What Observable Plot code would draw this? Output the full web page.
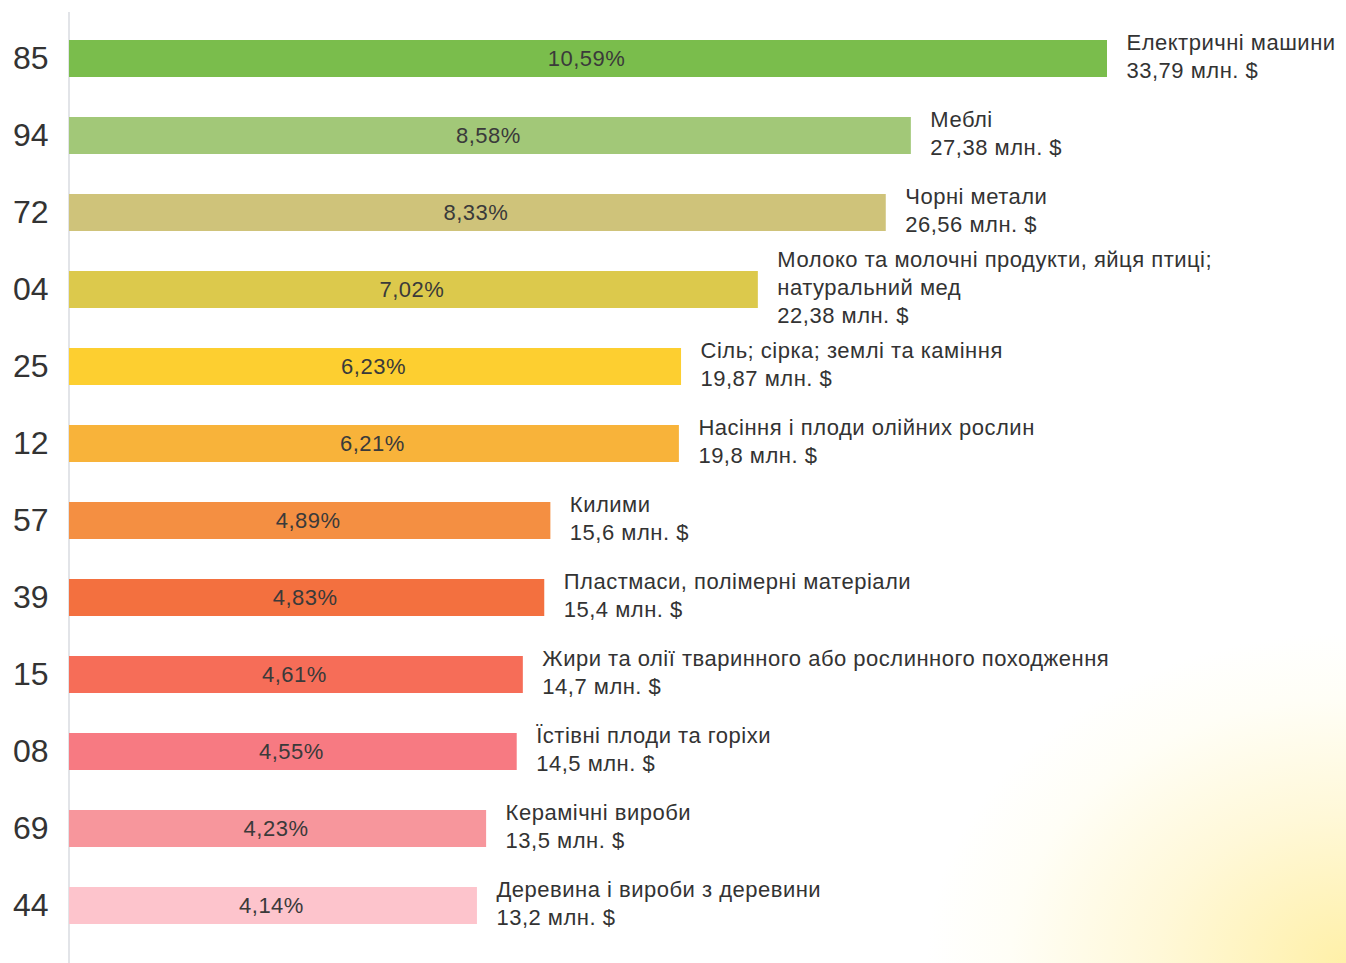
<!DOCTYPE html>
<html>
<head>
<meta charset="utf-8">
<script src="https://cdn.jsdelivr.net/npm/d3@7"></script>
<script src="https://cdn.jsdelivr.net/npm/@observablehq/plot@0.6"></script>
<style>
  html, body { margin: 0; padding: 0; }
  body {
    width: 1346px; height: 963px; overflow: hidden;
    background: radial-gradient(ellipse 420px 330px at 100% 100%, #fff0a8 0%, #fff8d8 45%, #fffef6 80%, #ffffff 100%);
    font-family: "Liberation Sans", Arial, sans-serif;
  }
  #chart svg { background: transparent !important; display: block; }
  #chart svg g[aria-label="text"] text { letter-spacing: 0.5px; }
</style>
</head>
<body>
<div id="chart"></div>
<script>
const codes = ["85", "94", "72", "04", "25", "12", "57", "39", "15", "08", "69", "44"];
const names = [
  "Електричні машини",
  "Меблі",
  "Чорні метали",
  "Молоко та молочні продукти, яйця птиці;\nнатуральний мед",
  "Сіль; сірка; землі та каміння",
  "Насіння і плоди олійних рослин",
  "Килими",
  "Пластмаси, полімерні матеріали",
  "Жири та олії тваринного або рослинного походження",
  "Їстівні плоди та горіхи",
  "Керамічні вироби",
  "Деревина і вироби з деревини"
];
const values = [33.79, 27.38, 26.56, 22.38, 19.87, 19.8, 15.6, 15.4, 14.7, 14.5, 13.5, 13.2];
const valueLabels = ["33,79", "27,38", "26,56", "22,38", "19,87", "19,8", "15,6", "15,4", "14,7", "14,5", "13,5", "13,2"];
const shares = ["10,59%", "8,58%", "8,33%", "7,02%", "6,23%", "6,21%", "4,89%", "4,83%", "4,61%", "4,55%", "4,23%", "4,14%"];
const colors = ["#7abd4c", "#a2c878", "#cfc37a", "#dcc94c", "#fdcf30", "#f8b33a", "#f48f42", "#f3703f", "#f66d58", "#f77a82", "#f7969c", "#fdc4cc"];

const data = codes.map((c, i) => ({
  code: c,
  value: values[i],
  share: shares[i],
  color: colors[i],
  label: names[i] + "\n" + valueLabels[i] + " млн. $"
}));

const chart = Plot.plot({
  width: 1346,
  height: 963,
  marginTop: 12,
  marginBottom: 0,
  marginLeft: 73,
  marginRight: 1346 - 1107,
  style: { fontFamily: "'Liberation Sans', Arial, sans-serif", background: "transparent", overflow: "visible" },
  x: { domain: [0, 33.79], axis: null },
  y: { domain: codes, paddingInner: 0.52, paddingOuter: 0.414, align: 0.414, label: null },
  marks: [
    Plot.ruleX([0], { stroke: "#d8dbe0", strokeWidth: 1.5, dx: -4.5 }),
    Plot.barX(data, { x: "value", y: "code", fill: "color", insetLeft: -4 }),
    Plot.text(data, {
      x: d => d.value / 2, y: "code", text: "share",
      fontSize: 22, fill: "#3a3a3a", dy: 0, dx: -4
    }),
    Plot.text(data, {
      x: "value", y: "code", text: "label",
      textAnchor: "start", dx: 19, dy: -4, fontSize: 22, lineHeight: 1.27, fill: "#333"
    }),
    Plot.axisY({ tickSize: 0, tickPadding: 25, fontSize: 32, fill: "#333", label: null })
  ]
});
document.getElementById("chart").appendChild(chart);
</script>
</body>
</html>
